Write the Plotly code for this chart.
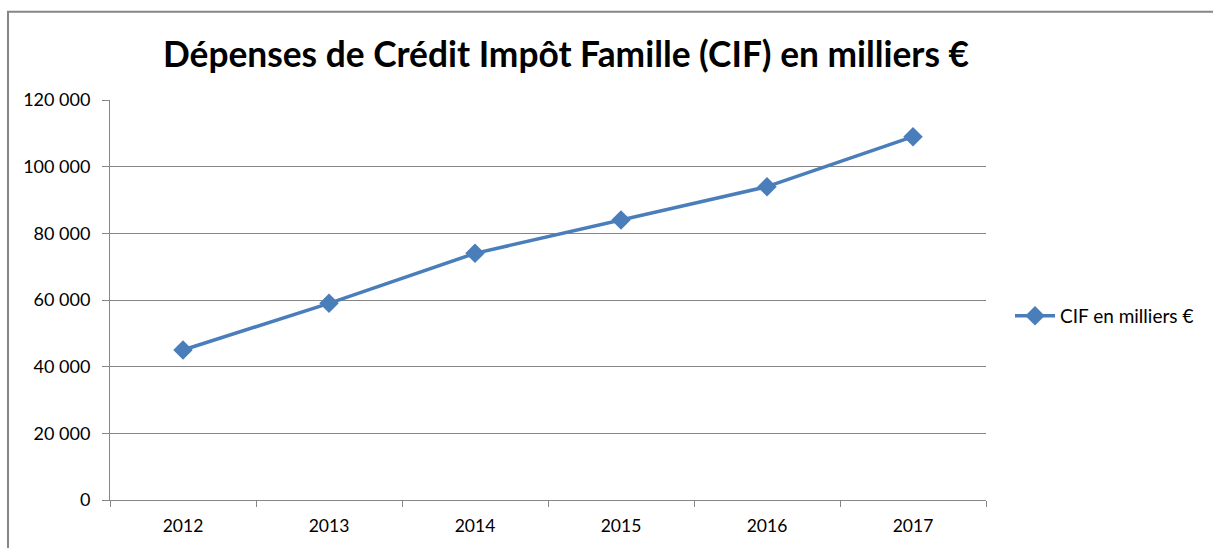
import plotly.graph_objects as go

years = ["2012", "2013", "2014", "2015", "2016", "2017"]
cif_values = [45000, 59000, 74000, 84000, 94000, 109000]
series_name = "CIF en milliers €"
title_text = "Dépenses de Crédit Impôt Famille (CIF) en milliers €"
y_ticks = [0, 20000, 40000, 60000, 80000, 100000, 120000]

W, H = 1213, 548
L, R, T, B = 110, 227, 100, 45
PW, PH = W - L - R, H - T - B
grey = "#868686"
font_family = "Lato, 'Open Sans', sans-serif"

fig = go.Figure()
fig.add_trace(go.Scatter(
    x=years, y=cif_values, name=series_name, mode="lines+markers",
    line=dict(color="#4A7EBB", width=3.5),
    marker=dict(symbol="diamond", size=15, color="#4A7EBB"),
))

fig.update_layout(
    width=W, height=H,
    margin=dict(l=L, r=R, t=T, b=B),
    paper_bgcolor="white", plot_bgcolor="white",
    separators=", ",
    font=dict(family=font_family, size=17.5, color="#000000"),
    title=dict(text="<b>" + title_text + "</b>", x=566 / W, xanchor="center",
               y=1 - 55 / H, yanchor="middle",
               font=dict(family=font_family, size=35.3, color="#000000")),
    showlegend=True,
    legend=dict(x=1 + 24 / PW, xanchor="left", y=0.5 - 16 / PH, yanchor="middle",
                font=dict(size=19), bgcolor="rgba(0,0,0,0)", itemwidth=40),
    xaxis=dict(type="category", showgrid=False, showline=True, linecolor=grey, linewidth=1,
               ticks="outside", tickson="boundaries", ticklen=6, tickcolor=grey,
               tickfont=dict(size=17.5), range=[-0.5, 5.5], ticklabelstandoff=10),
    yaxis=dict(range=[0, 120000], tickvals=y_ticks, tickformat=",d",
               showgrid=True, gridcolor=grey, gridwidth=1,
               showline=True, linecolor=grey, linewidth=1,
               ticks="outside", ticklen=7, tickcolor=grey, zeroline=False,
               tickfont=dict(size=18), ticklabelstandoff=8),
    shapes=[dict(type="rect", xref="paper", yref="paper",
                 x0=-(L - 8) / PW, x1=1 + (R + 20) / PW,
                 y0=-(B + 20) / PH, y1=1 + (T - 11) / PH,
                 line=dict(color=grey, width=2), fillcolor="rgba(0,0,0,0)", layer="below")],
)

fig.write_html("out.html", config={"displayModeBar": False},
               post_script="document.body.style.margin='0';document.body.style.overflow='hidden';")
